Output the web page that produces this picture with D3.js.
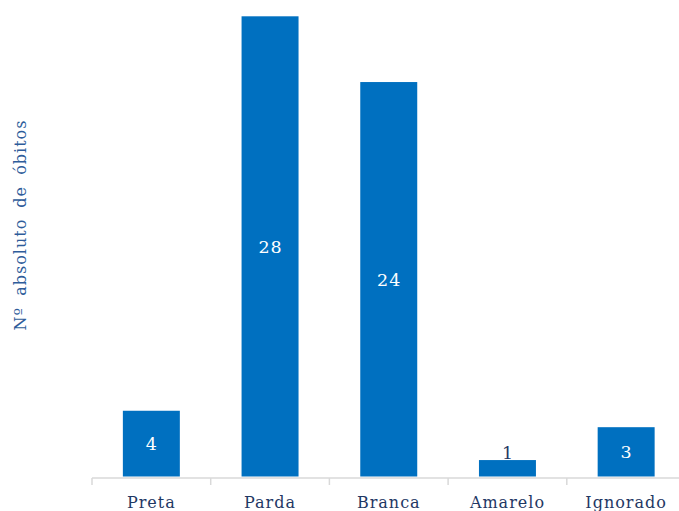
<!DOCTYPE html>
<html><head><meta charset="utf-8">
<script src="https://cdn.jsdelivr.net/npm/d3@7"></script>
<style>html,body{margin:0;padding:0;background:#fff;}</style>
</head><body>
<svg id="chart" width="679" height="511"></svg>
<script>
const categories = ["Preta", "Parda", "Branca", "Amarelo", "Ignorado"];
const values = [4, 28, 24, 1, 3];
const yTitle = "Nº absoluto de óbitos";

const svg = d3.select("#chart");
const font = "'DejaVu Serif', serif";
const x = d3.scaleBand().domain(categories).range([92, 685.5]).paddingInner(0.52).paddingOuter(0.26);
const y = d3.scaleLinear().domain([0, 28]).range([476.5, 16.3]);

svg.selectAll("rect.bar").data(values).enter().append("rect")
  .attr("class", "bar")
  .attr("x", (d, i) => x(categories[i]))
  .attr("width", x.bandwidth())
  .attr("y", d => y(d))
  .attr("height", d => y(0) - y(d))
  .attr("fill", "#0070C0");

// axis
const axisG = svg.append("g").attr("transform", "translate(0,478)");
axisG.append("line").attr("x1", 92).attr("x2", 679).attr("stroke", "#D9D9D9").attr("stroke-width", 1.5);
const tickXs = d3.range(categories.length + 1).map(i => 92 + i * (593.5 / categories.length));
axisG.selectAll("line.tick").data(tickXs).enter().append("line")
  .attr("class", "tick").attr("x1", d => d).attr("x2", d => d).attr("y1", 0).attr("y2", 7)
  .attr("stroke", "#D9D9D9").attr("stroke-width", 1.5);

svg.selectAll("text.cat").data(categories).enter().append("text")
  .attr("class", "cat")
  .attr("x", d => x(d) + x.bandwidth() / 2)
  .attr("y", 508)
  .attr("text-anchor", "middle")
  .attr("font-family", font).attr("font-size", 16)
  .attr("letter-spacing", 1)
  .attr("fill", "#1F3864")
  .text(d => d);

// data labels
svg.selectAll("text.val").data(values).enter().append("text")
  .attr("class", "val")
  .attr("x", (d, i) => x(categories[i]) + x.bandwidth() / 2 + 0.5)
  .attr("y", d => (y(0) - y(d) < 20) ? y(d) - 1 : (y(d) + y(0)) / 2 + 6.5)
  .attr("text-anchor", "middle")
  .attr("font-family", font).attr("font-size", 17.5)
  .attr("letter-spacing", 1)
  .attr("fill", d => (y(0) - y(d) < 20) ? "#1F3864" : "#fff")
  .text(d => d);

svg.append("text")
  .attr("transform", "translate(26,225) rotate(-90)")
  .attr("text-anchor", "middle")
  .attr("font-family", font).attr("font-size", 16)
  .attr("letter-spacing", 1)
  .attr("word-spacing", 5)
  .attr("fill", "#2E5C9A")
  .text(yTitle);
</script>
</body></html>
